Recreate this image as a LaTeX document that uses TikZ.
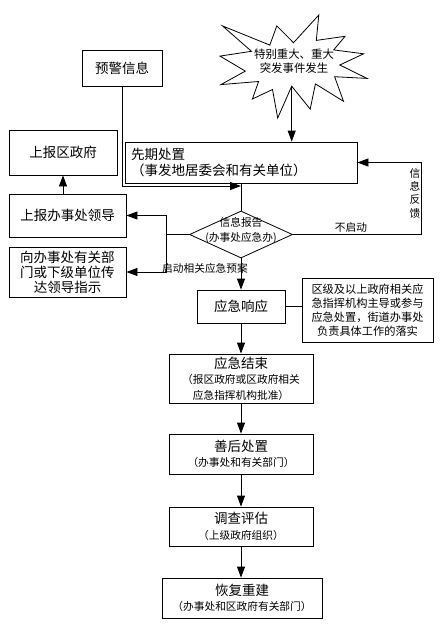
\documentclass[tikz,border=0pt]{standalone}
\usepackage{fontspec}
\setmainfont{Noto Sans CJK SC}
\usepackage{tikz}
\usetikzlibrary{shapes.geometric,arrows.meta}

\newcommand{\hd}[1]{{\fontsize{13.5}{17}\selectfont #1}}

\tikzset{
  box/.style={draw, line width=0.8pt, inner sep=2pt, align=center,
    font=\fontsize{13.5}{15.5}\selectfont},
  sbox/.style={draw, line width=0.8pt, inner sep=2pt, align=center,
    font=\fontsize{10.7}{15.5}\selectfont},
  small/.style={inner sep=0pt, align=center, font=\fontsize{10.7}{14}\selectfont},
  dia/.style={draw, diamond, line width=0.8pt, inner sep=0pt},
  arr/.style={-{Triangle[length=11pt,width=8pt]}, line width=0.8pt},
  ln/.style={line width=0.8pt}
}

\begin{document}
\begin{tikzpicture}[x=1pt,y=-1pt]
    \useasboundingbox (0,0) rectangle (447,637);

    % burst
    \draw[ln] (293.5,42.7) -- (318.8,15) -- (316.3,40.4) -- (345.1,36.3)
      -- (333.7,49.9) -- (363.6,53.8) -- (339.8,65.0) -- (367,78.4)
      -- (334.6,76.7) -- (343.5,101.3) -- (315.4,83.9) -- (310.2,109.1)
      -- (291.7,86.2) -- (277.7,118) -- (272.5,89.5) -- (252.4,99.0)
      -- (258.6,81.5) -- (220.9,84.6) -- (245.3,71.1) -- (220,56.1)
      -- (251.5,51.3) -- (222.5,25.9) -- (269.8,45.1) -- (276.8,25.9) -- cycle;
    \coordinate (tfoot) at (291.7,86.2);
    \node[small, font=\fontsize{11.4}{14}\selectfont] (tf) at (294,61) {特别重大、重大\\突发事件发生};

    \node[box, minimum width=80, minimum height=36] (yj) at (122,68) {预警信息};
    \node[box, minimum width=232, minimum height=41, text width=220, align=left] (xq) at (241,162.5) {先期处置\\（事发地居委会和有关单位）};
    \node[dia, minimum width=103, minimum height=47] (xx) at (241,234.5) {};
    \node[small, font=\fontsize{10.7}{15}\selectfont] (xxt) at (241,230) {信息报告\\(办事处应急办)};

    \node[box, minimum width=108, minimum height=45] (sbq) at (63,152.5) {上报区政府};
    \node[box, minimum width=117, minimum height=43] (sbl) at (67.5,215.5) {上报办事处领导};
    \node[box, minimum width=117, minimum height=50, text width=110, font=\fontsize{13.5}{15}\selectfont] (xbs) at (67.5,272) {向办事处有关部\\门或下级单位传\\达领导指示};

    \node[box, minimum width=88, minimum height=33] (yx) at (241,306.5) {应急响应};
    \node[sbox, minimum width=131, minimum height=64, font=\fontsize{11.2}{14}\selectfont] (qj) at (367.5,310) {区级及以上政府相关应\\急指挥机构主导或参与\\应急处置，街道办事处\\负责具体工作的落实};

    \node[sbox, minimum width=144, minimum height=49] (js) at (241,378.5) {\hd{应急结束}\\（报区政府或区政府相关\\应急指挥机构批准）};
    \node[sbox, minimum width=144, minimum height=40] (sh) at (241,454) {\hd{善后处置}\\（办事处和有关部门）};
    \node[sbox, minimum width=144, minimum height=39] (dc) at (241,526.5) {\hd{调查评估}\\（上级政府组织）};
    \node[sbox, minimum width=160, minimum height=40] (hf) at (242,598) {\hd{恢复重建}\\（办事处和区政府有关部门）};

    \coordinate (jn) at (241,186);
    \coordinate (fb) at (421,0);
    \coordinate (lb) at (166,0);

    \draw[arr] (tfoot) -- (tfoot |- xq.north);
    \draw[ln] (xq.south) -- (xx.north);
    \draw[arr] (yj.south) |- (jn);

    \draw[arr] (xx.east) -| (fb |- xq.east) -- (xq.east);
    \node[small] (bqd) at (351,227) {不启动};
    \node[small, font=\fontsize{10.7}{13.3}\selectfont] (fk) at (415,193) {信\\息\\反\\馈};

    \draw[ln] (xx.west) -- (xx.west -| lb);
    \draw[arr] (xx.west -| lb) |- (sbl.east);
    \draw[arr] (xx.west -| lb) |- (xbs.east);
    \draw[arr] (sbl.north -| sbq) -- (sbq.south);
    \node[small] (qd) at (205,268) {启动相关应急预案};

    \draw[arr] (xx.south) -- (yx.north);
    \draw[ln] (yx.east) -- (yx.east -| qj.west);
    \draw[arr] (yx) -- (js);
    \draw[arr] (js) -- (sh);
    \draw[arr] (sh) -- (dc);
    \draw[arr] (dc.south) -- (dc.south |- hf.north);
  \end{tikzpicture}
\end{document}
